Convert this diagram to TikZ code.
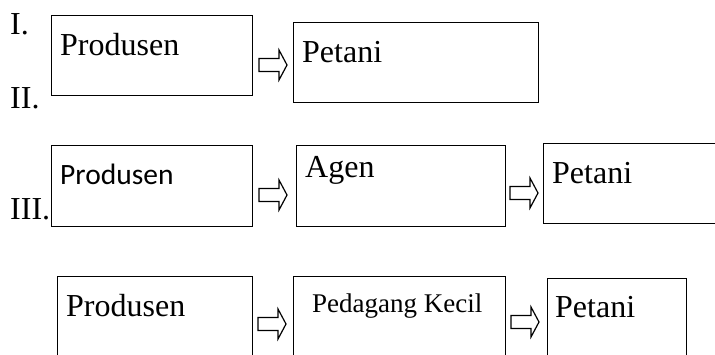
\documentclass[tikz,border=0pt]{standalone}
\usepackage{fontspec}
\setmainfont{Liberation Serif}
\newfontfamily\calibrifont{Carlito}
\usetikzlibrary{calc}
\begin{document}
\begin{tikzpicture}[x=1pt,y=-1pt,
  box/.style={draw,line width=1.3pt,inner sep=0pt,anchor=north west},
  txt/.style={anchor=base west,inner sep=0pt,font=\fontsize{32}{36}\selectfont},
  small/.style={anchor=base west,inner sep=0pt,font=\fontsize{27}{31}\selectfont},
  sans/.style={anchor=base west,inner sep=0pt,font=\calibrifont\fontsize{29.5}{33}\selectfont},
  blk/.pic={\draw[line width=1.2pt,line join=miter] (-14,-6.5) -- (6,-6.5) -- (6,-15) -- (14,0) -- (6,15) -- (6,6.5) -- (-14,6.5) -- cycle;}]
\useasboundingbox (0,0) rectangle (715,354);
\clip (0,0) rectangle (715,354);
% row labels
\node[txt] (l1) at (10,34) {I.};
\node[txt] (l2) at (10,108) {II.};
\node[txt] (l3) at (10,219) {III.};
% Row I
\node[box,minimum width=201pt,minimum height=80pt] (b1) at (51,15) {};
\node[txt] (t1) at (60,55) {Produsen};
\node[box,minimum width=245pt,minimum height=80pt] (b2) at (293,22) {};
\node[txt] (t2) at (302,62) {Petani};
\pic (a1) at (273,65) {blk};
% Row II
\node[box,minimum width=201pt,minimum height=81pt] (b3) at (51,145) {};
\node[sans] (t3) at (60,184) {Produsen};
\node[box,minimum width=209pt,minimum height=81pt] (b4) at (296,145) {};
\node[txt] (t4) at (305,177) {Agen};
\node[box,minimum width=190pt,minimum height=80pt] (b5) at (543,143) {};
\node[txt] (t5) at (552,183) {Petani};
\pic (a2) at (273,195) {blk};
\pic (a3) at (524,193) {blk};
% Row III
\node[box,minimum width=195pt,minimum height=90pt] (b6) at (57,276) {};
\node[txt] (t6) at (66,316) {Produsen};
\node[box,minimum width=212pt,minimum height=90pt] (b7) at (293,276) {};
\node[small] (t7) at (312,312) {Pedagang Kecil};
\node[box,minimum width=139pt,minimum height=90pt] (b8) at (547,278) {};
\node[txt] (t8) at (555,317) {Petani};
\pic (a4) at (272,324) {blk};
\pic (a5) at (525,322) {blk};
\end{tikzpicture}
\end{document}
